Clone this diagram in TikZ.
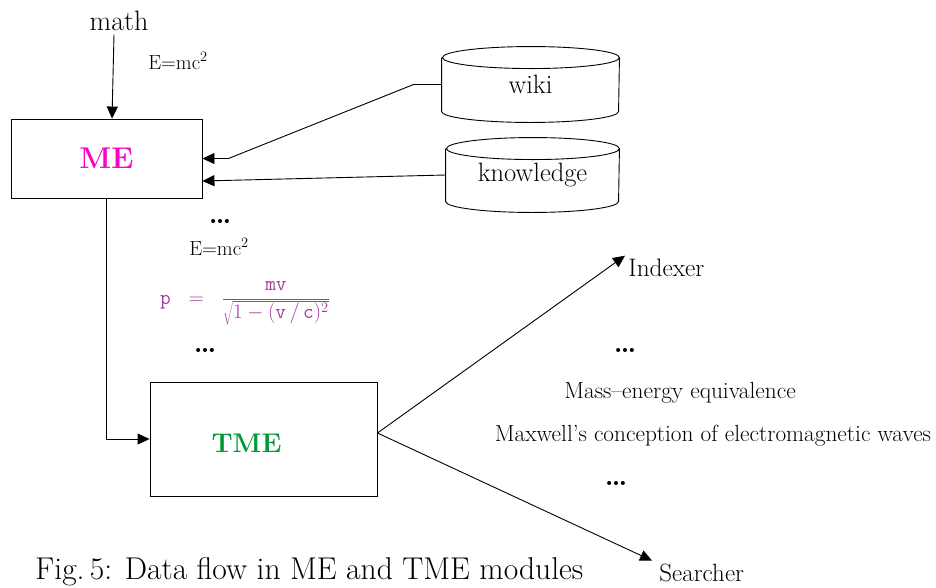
\documentclass[tikz,border=0pt]{standalone}
\usepackage{tikz}
\usetikzlibrary{calc,arrows.meta}
\definecolor{mepink}{RGB}{255,0,204}
\definecolor{tmegreen}{RGB}{0,153,51}
\definecolor{eqpurple}{RGB}{160,60,160}
\def\fsz#1{\fontsize{#1}{#1}\selectfont}
\def\dbcyl(#1)(#2)(#3:#4)#5{%
  \node[dbbody, minimum width=2*#3 pt, minimum height=2*#4 pt] (#1) at (#2) {\raisebox{-7pt}{#5}};
  \draw (#1.north west) -- (#1.south west) arc (180:360:#3pt and 11pt) -- (#1.north east) arc (0:360:#3pt and 11pt);
}

\begin{document}
\begin{tikzpicture}[x=1pt, y=-1pt, line width=0.9pt,
    >={Triangle[length=12pt,width=11pt]},
    box/.style={draw, inner sep=0pt},
    dbbody/.style={inner sep=0pt, font=\fsz{26.5}},
    dots/.style={font=\bfseries\fsz{28}, anchor=base}]
			%%%%% START %%%%%
			\useasboundingbox (0,0) rectangle (936,587);
			
			\node[font=\fsz{28}] (math) at (119,21) {math};
			\node[font=\fsz{20.5}] (emctop) at (178,61) {E=mc\textsuperscript{2}};
			
			\node[box, minimum width=191pt, minimum height=79pt, text=mepink, font=\bfseries\fsz{30}] (ME) at (106.5,158.5) {ME};
			
			\dbcyl(wiki)(530.5,84.5)(88.5:26.5){wiki}
			\dbcyl(knowledge)(532.5,175)(86.5:26){knowledge}
			
			\node[dots] (dotsa) at (220,223) {…};
			\node[font=\fsz{20.5}] (emcmid) at (219,247) {E=mc\textsuperscript{2}};
			\node[text=eqpurple, font=\fsz{20.5}] (eq) at (245,303) {$\mathtt{p}\ \ =\ \ \displaystyle\frac{\mathtt{mv}}{\sqrt{1-(\mathtt{v}\,/\,\mathtt{c})^{2}}}$};
			\node[dots] (dotsb) at (205,352) {…};
			
			\node[box, minimum width=227pt, minimum height=114pt,
			  label={[text=tmegreen, font=\bfseries\fsz{27}, xshift=-17pt, yshift=-4.5pt]center:TME}] (TME) at (263.5,439) {};
			
			\node[font=\fsz{25.3}, inner sep=3pt, anchor=west] (indexer) at (625,268) {Indexer};
			\node[dots] (dotsc) at (625,352) {…};
			\node[font=\fsz{23.3}] (mass) at (680,393) {Mass–energy equivalence};
			\node[font=\fsz{23.3}] (maxwell) at (713,436) {Maxwell’s conception of electromagnetic waves};
			\node[dots] (dotsd) at (616,485) {…};
			\node[font=\fsz{25}, inner sep=3pt, anchor=west] (searcher) at (656,573) {Searcher};
			
			\node[font=\fsz{31.5}, anchor=base west, inner sep=0pt] (caption) at (35,579) {Fig.\,5: Data flow in ME and TME modules};
			
			% connectors
			\draw[->] ([xshift=-5pt]math.south) -- ([xshift=5.5pt]ME.north);
			\draw[->] (wiki.west) -- ++(-28,0) -- ([xshift=26pt]ME.east) -- (ME.east);
			\draw[->] (knowledge.west) -- ([yshift=-22.5pt]ME.east);
			\draw[->] (ME.south) |- (TME.west);
			\draw[->] ([yshift=6pt]TME.east) -- (indexer.north west);
			\draw[->] ([yshift=6pt]TME.east) -- ([xshift=-4pt]searcher.north west);
			
			%%%%% END %%%%%
\end{tikzpicture}
\end{document}
